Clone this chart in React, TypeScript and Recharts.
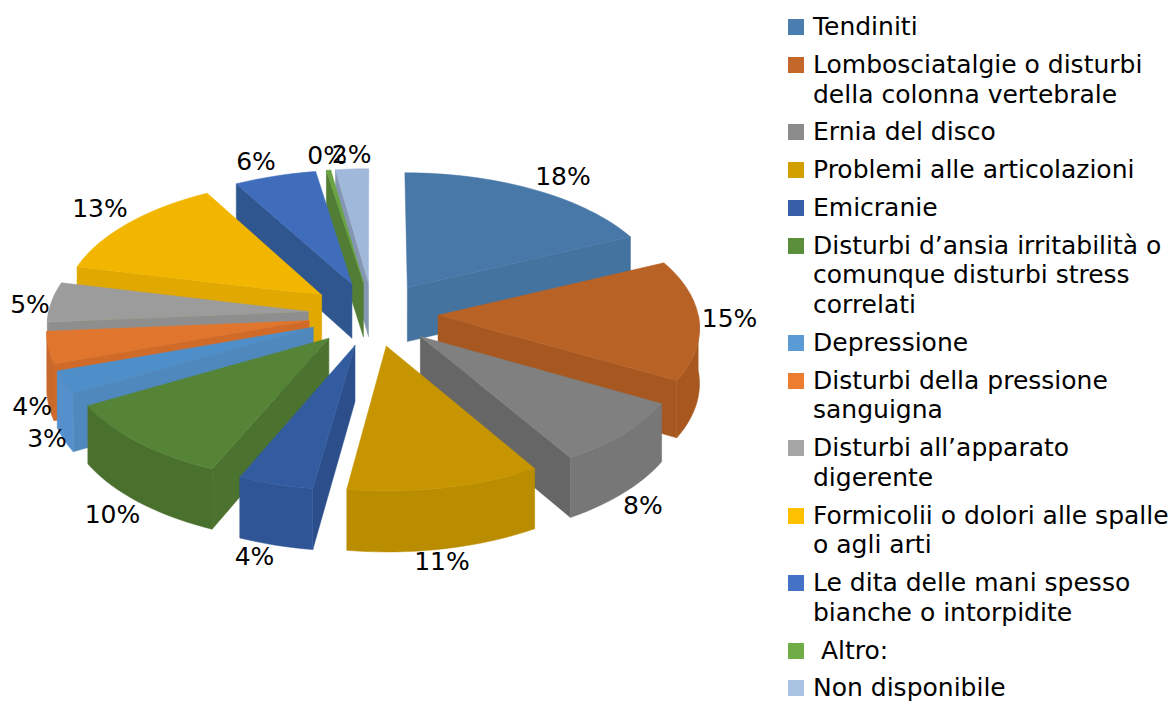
import React from 'react';
import { PieChart, Pie, Legend } from 'recharts';

const categories = [
  'Tendiniti',
  'Lombosciatalgie o disturbi della colonna vertebrale',
  'Ernia del disco',
  'Problemi alle articolazioni',
  'Emicranie',
  'Disturbi d’ansia irritabilità o comunque disturbi stress correlati',
  'Depressione',
  'Disturbi della pressione sanguigna',
  'Disturbi all’apparato digerente',
  'Formicolii o dolori alle spalle o agli arti',
  'Le dita delle mani spesso bianche o intorpidite',
  ' Altro:',
  'Non disponibile',
];

// percentages, with decimals
const values = [18.05, 15.1, 8.2, 10.9, 4.25, 10.3, 2.9, 4, 5, 13.15, 5.6, 0.3, 2.25];

const swatchColors = [
  '#4a7eb0', '#c4672b', '#8c8c8c', '#d29f00', '#365fa8', '#5b8f3c', '#5b9bd5',
  '#ed7d31', '#a5a5a5', '#ffc000', '#4472c4', '#70ad47', '#a9c3e3',
];
const topColors = [
  '#4878a8', '#b86226', '#808080', '#c69500', '#325c9f', '#568436', '#4f8fc9',
  '#e0762d', '#9c9c9c', '#f2b600', '#3f6dbb', '#69a342', '#a0b8da',
];
const cutColors = [
  '#44739f', '#a65820', '#666666', '#b88c00', '#2c4f8c', '#4c7230', '#4f88bc',
  '#d06a28', '#8e8e8e', '#e0a800', '#30568f', '#527d34', '#8496b2',
];
const rimColors = [
  '#44739f', '#a8581f', '#777777', '#ba8d00', '#2f5596', '#4a702e', '#5590cc',
  '#c8682a', '#969696', '#e6ac00', '#35609f', '#527d34', '#8496b2',
];

// small offsets from the computed label spot, the original placed these by hand
const labelNudges = [
  [9, 2], [-14, -4], [-18, 13], [-14, -13], [-6, -13], [9, 8], [27, 22],
  [29, 43], [22, 4], [3, -3], [-7, 2], [4, 3], [2, 3],
];

const TILT = 0.492;
const PERSPECTIVE = 0.08;
const EXPLODE = 0.25;
const DEPTH = 55;
const FONT = '"DejaVu Sans", sans-serif';

const rows = categories.map((name, i) => ({ name, value: values[i], slice: i, fill: topColors[i] }));
const reversedRows = [...rows].reverse();

const rad = (d: number) => (d * Math.PI) / 180;

// recharts angles -> degrees clockwise from the top
const toClock = (startAngle: number, endAngle: number) => {
  let from = 90 - Math.max(startAngle, endAngle);
  let to = 90 - Math.min(startAngle, endAngle);
  while (from < 0) {
    from += 360;
    to += 360;
  }
  return [from, to];
};

const project = (cx: number, cy: number, R: number, x: number, y: number, drop = 0) => {
  const w = 1 + PERSPECTIVE * y;
  return [cx + (R * x) / w, cy - (R * TILT * y) / w + drop / w];
};

const toPath = (pts: number[][]) =>
  pts.map((p, i) => `${i ? 'L' : 'M'}${p[0].toFixed(2)},${p[1].toFixed(2)}`).join('') + 'Z';

const Wedge = (props: any) => {
  const { cx, cy, outerRadius: R, startAngle, endAngle } = props;
  const i = props.slice ?? props.payload?.slice;
  const [from, to] = toClock(startAngle, endAngle);
  const mid = (from + to) / 2;
  const ax = EXPLODE * Math.sin(rad(mid));
  const ay = EXPLODE * Math.cos(rad(mid));
  const rimPoint = (t: number, drop = 0) =>
    project(cx, cy, R, ax + Math.sin(rad(t)), ay + Math.cos(rad(t)), drop);
  const arc = (a: number, b: number, drop = 0) => {
    const steps = Math.max(2, Math.ceil((b - a) / 2));
    return Array.from({ length: steps + 1 }, (_, k) => rimPoint(a + ((b - a) * k) / steps, drop));
  };
  const apex = project(cx, cy, R, ax, ay);
  const apexLow = project(cx, cy, R, ax, ay, DEPTH);
  const faces: React.ReactNode[] = [];
  const face = (key: string, pts: number[][], color: string) =>
    faces.push(<path key={key} d={toPath(pts)} fill={color} stroke={color} strokeWidth={0.5} />);

  if (Math.sin(rad(from)) < 0) {
    face('cutA', [apex, rimPoint(from), rimPoint(from, DEPTH), apexLow], cutColors[i]);
  }
  if (Math.sin(rad(to)) > 0) {
    face('cutB', [apex, rimPoint(to), rimPoint(to, DEPTH), apexLow], cutColors[i]);
  }
  const rimFrom = Math.max(from, 90);
  const rimTo = Math.min(to, 270);
  if (rimTo > rimFrom) {
    face('rim', [...arc(rimFrom, rimTo), ...arc(rimFrom, rimTo, DEPTH).reverse()], rimColors[i]);
  }
  face('top', [apex, ...arc(from, to)], topColors[i]);
  return <g>{faces}</g>;
};

const drawIf = (test: (slice: number) => boolean) => (props: any) => {
  const i = props.slice ?? props.payload?.slice;
  return test(i) ? <Wedge {...props} /> : <g />;
};

const sliceLabel = (test: (slice: number) => boolean) => (props: any) => {
  const { cx, cy, outerRadius: R, startAngle, endAngle } = props;
  const i = props.slice ?? props.payload?.slice;
  if (!test(i)) return <g />;
  const [from, to] = toClock(startAngle, endAngle);
  const mid = rad((from + to) / 2);
  const reach = 1.17 + EXPLODE;
  const front = Math.cos(mid) < 0 ? DEPTH * -Math.cos(mid) : 0;
  const [x, y] = project(cx, cy, R, reach * Math.sin(mid), reach * Math.cos(mid), front);
  return (
    <text
      x={x + labelNudges[i][0]}
      y={y + labelNudges[i][1]}
      textAnchor="middle"
      dominantBaseline="central"
      fontFamily={FONT}
      fontSize={25}
      fill="#000"
    >
      {Math.round(values[i])}%
    </text>
  );
};

const isRightSide = (i: number) => i <= 3;
const isLeftSide = (i: number) => i > 3;

const LegendList = () => (
  <div style={{ fontFamily: FONT, fontSize: 25, lineHeight: '29.7px', color: '#000' }}>
    {categories.map((name, i) => (
      <div
        key={i}
        style={{
          position: 'relative',
          paddingLeft: 25,
          marginBottom: 8.1,
          whiteSpace: name.startsWith(' ') ? 'pre' : 'normal',
        }}
      >
        <span
          style={{ position: 'absolute', left: 0, top: 7, width: 16, height: 16, background: swatchColors[i] }}
        />
        {name}
      </div>
    ))}
  </div>
);

export default function App() {
  return (
    <div style={{ position: 'absolute', left: 0, top: 0, width: 1174, height: 704, overflow: 'hidden', background: '#fff' }}>
      <PieChart width={1174} height={704} margin={{ top: 0, right: 0, bottom: 0, left: 0 }}>
        {/* back-to-front: the left half runs counter-clockwise from the top */}
        <Pie
          data={reversedRows}
          dataKey="value"
          nameKey="name"
          cx={373}
          cy={314}
          outerRadius={260}
          startAngle={90}
          endAngle={450}
          stroke="none"
          shape={drawIf(isLeftSide)}
          label={sliceLabel(isLeftSide)}
          labelLine={false}
          isAnimationActive={false}
        />
        <Pie
          data={rows}
          dataKey="value"
          nameKey="name"
          cx={373}
          cy={314}
          outerRadius={260}
          startAngle={90}
          endAngle={-270}
          stroke="none"
          shape={drawIf(isRightSide)}
          label={sliceLabel(isRightSide)}
          labelLine={false}
          isAnimationActive={false}
        />
        <Legend
          content={<LegendList />}
          layout="vertical"
          align="right"
          verticalAlign="top"
          wrapperStyle={{ left: 788, top: 12, width: 386 }}
        />
      </PieChart>
    </div>
  );
}
